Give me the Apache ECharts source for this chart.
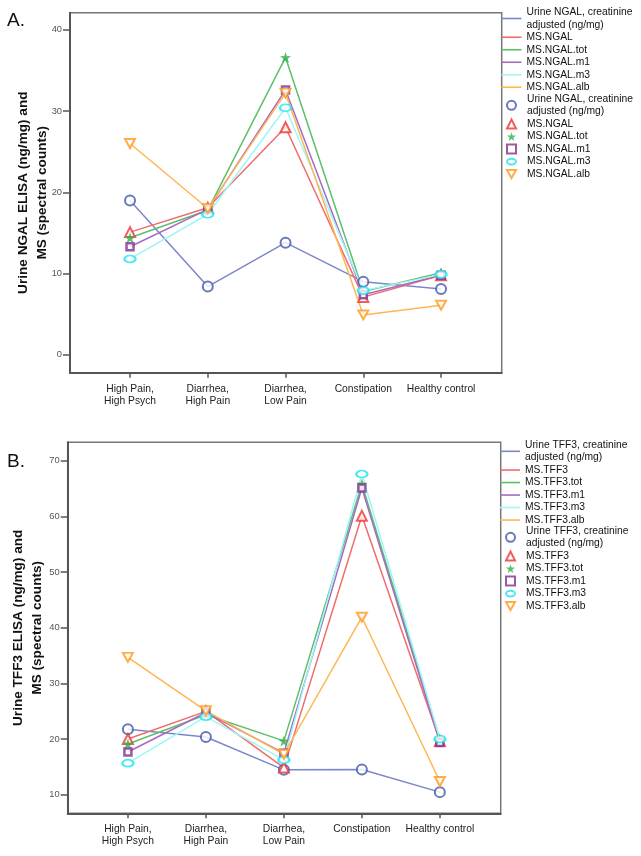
<!DOCTYPE html>
<html>
<head>
<meta charset="utf-8">
<script src="https://cdn.jsdelivr.net/npm/echarts@6/dist/echarts.min.js"></script>
<style>
html,body{margin:0;padding:0;background:#fff;}
#c{width:641px;height:856px;}
</style>
</head>
<body>
<div id="c"></div>
<script>
// ---- Data ----
const categories = ['High Pain,\nHigh Psych', 'Diarrhea,\nHigh Pain', 'Diarrhea,\nLow Pain', 'Constipation', 'Healthy control'];

const ngalNames = ['Urine NGAL, creatinine\nadjusted (ng/mg)', 'MS.NGAL', 'MS.NGAL.tot', 'MS.NGAL.m1', 'MS.NGAL.m3', 'MS.NGAL.alb'];
const ngalElisa = [19.0, 8.4, 13.8, 9.0, 8.1];
const msNgal    = [15.1, 18.1, 28.0, 7.1, 9.8];
const msNgalTot = [14.4, 17.8, 36.6, 7.8, 10.1];
const msNgalM1  = [13.3, 17.9, 32.6, 7.4, 9.8];
const msNgalM3  = [11.8, 17.3, 30.4, 7.9, 9.9];
const msNgalAlb = [26.0, 18.0, 32.2, 4.9, 6.1];
const ngalTicks = [0, 10, 20, 30, 40];

const tffNames = ['Urine TFF3, creatinine\nadjusted (ng/mg)', 'MS.TFF3', 'MS.TFF3.tot', 'MS.TFF3.m1', 'MS.TFF3.m3', 'MS.TFF3.alb'];
const tffElisa  = [21.8, 20.4, 14.5, 14.55, 10.5];
const msTff3    = [20.05, 25.0, 14.9, 60.1, 19.7];
const msTff3Tot = [19.15, 24.4, 19.7, 65.8, 20.0];
const msTff3M1  = [17.7, 24.8, 17.5, 65.1, 19.4];
const msTff3M3  = [15.7, 24.05, 16.3, 67.6, 20.05];
const msTff3Alb = [34.7, 25.1, 17.3, 41.9, 12.4];
const tffTicks = [10, 20, 30, 40, 50, 60, 70];

// ---- Styles ----
const lineColors   = ['#7b87c9', '#f26b6b', '#5dbf6b', '#a66ac2', '#9ef6f8', '#ffb652'];
const markerColors = ['#4356ac', '#ee3434', '#33b04a', '#7f2f8f', '#1ee4ee', '#ff9a1e'];
const ELLIPSE = 'path://M0,3.5 A5.5,3.5 0 1,1 11,3.5 A5.5,3.5 0 1,1 0,3.5 Z';
const INVTRI = 'path://M0,0 L10,0 L5,9 Z';
const STAR = 'path://M5,0 L6.2,3.6 L10,3.8 L7,6.1 L8.1,9.8 L5,7.6 L1.9,9.8 L3,6.1 L0,3.8 L3.8,3.6 Z';
const markerDefs = [
  {symbol: 'circle', size: 10, fill: '#fff', bw: 2},
  {symbol: 'triangle', size: 10, fill: '#fff', bw: 2},
  {symbol: STAR, size: 11, fill: null, bw: 0},
  {symbol: 'rect', size: 7, fill: '#fff', bw: 2.5},
  {symbol: ELLIPSE, size: [11, 7], fill: '#fff', bw: 2},
  {symbol: INVTRI, size: [10, 9], fill: '#fff', bw: 2}
];
const ZW = '\u200b';

function buildSeries(idx, names, valueSets) {
  const out = [];
  valueSets.forEach((vals, j) => {
    out.push({
      type: 'line', name: names[j], xAxisIndex: idx, yAxisIndex: idx,
      data: vals.map((v, k) => [k, v]),
      symbol: 'none', showSymbol: false, color: lineColors[j],
      lineStyle: {color: lineColors[j], width: 1.5},
      z: 2
    });
  });
  valueSets.forEach((vals, j) => {
    const m = markerDefs[j];
    out.push({
      type: 'scatter', name: names[j] + ZW, xAxisIndex: idx, yAxisIndex: idx,
      data: vals.map((v, k) => [k, v]),
      symbol: m.symbol, symbolSize: m.size,
      color: markerColors[j],
      itemStyle: m.fill ? {color: m.fill, borderColor: markerColors[j], borderWidth: m.bw}
                        : {color: markerColors[j], borderWidth: 0},
      z: 3
    });
  });
  return out;
}

const series = []
  .concat(buildSeries(0, ngalNames, [ngalElisa, msNgal, msNgalTot, msNgalM1, msNgalM3, msNgalAlb]))
  .concat(buildSeries(1, tffNames, [tffElisa, msTff3, msTff3Tot, msTff3M1, msTff3M3, msTff3Alb]));

const FONT = 'Liberation Sans, Arial, sans-serif';

function xAxisDef(gi) {
  return {
    type: 'value', gridIndex: gi, min: -0.772, max: 4.78,
    axisLine: {show: true, onZero: false, lineStyle: {color: '#555', width: 2}},
    axisTick: {show: true, length: 5, customValues: [0, 1, 2, 3, 4], lineStyle: {color: '#555', width: 1.5}},
    axisLabel: {show: true, customValues: [0, 1, 2, 3, 4], formatter: v => categories[Math.round(v)],
      color: '#222', fontSize: 10.3, lineHeight: 12, margin: 10, fontFamily: FONT},
    splitLine: {show: false}
  };
}
function yAxisDef(gi, min, max, ticks, name, gap) {
  return {
    type: 'value', gridIndex: gi, min: min, max: max,
    name: name, nameLocation: 'middle', nameGap: gap, nameMoveOverlap: false,
    nameTextStyle: {fontWeight: 'bold', fontSize: 13.6, lineHeight: 19, color: '#111', fontFamily: FONT},
    axisLine: {show: true, onZero: false, lineStyle: {color: '#555', width: 2}},
    axisTick: {show: true, length: 7, customValues: ticks, lineStyle: {color: '#555', width: 1.5}},
    axisLabel: {show: true, customValues: ticks, color: '#555', fontSize: 9.3, margin: 8, fontFamily: FONT},
    splitLine: {show: false}
  };
}

function lineLegend(top, left, names) {
  return {
    orient: 'vertical', left: left, top: top, padding: 0, itemGap: 0,
    itemWidth: 20, itemHeight: 1.6, selectedMode: false, icon: 'rect',
    data: names,
    textStyle: {fontSize: 10.3, lineHeight: 12.5, color: '#111', fontFamily: FONT}
  };
}
function symLegend(top, left, names) {
  return {
    orient: 'vertical', left: left, top: top, padding: 0, itemGap: 0,
    itemWidth: 9, itemHeight: 9, selectedMode: false,
    data: names.map(n => n + ZW),
    formatter: n => n.replace(/\u200b/g, ''),
    textStyle: {fontSize: 10.3, lineHeight: 12.5, color: '#111', fontFamily: FONT, padding: [0, 0, 0, 6]}
  };
}

const option = {
  animation: false,
  backgroundColor: '#fff',
  grid: [
    {left: 70, top: 12.7, width: 431.7, height: 360, show: true, borderColor: '#777', borderWidth: 1.5, backgroundColor: 'transparent'},
    {left: 67.7, top: 442.3, width: 433, height: 371, show: true, borderColor: '#777', borderWidth: 1.5, backgroundColor: 'transparent'}
  ],
  xAxis: [xAxisDef(0), xAxisDef(1)],
  yAxis: [
    yAxisDef(0, -2.2, 42.1, ngalTicks, 'Urine NGAL ELISA (ng/mg) and\nMS (spectral counts)', 18.5),
    yAxisDef(1, 6.7, 73.3, tffTicks, 'Urine TFF3 ELISA (ng/mg) and\nMS (spectral counts)', 21)
  ],
  legend: [
    lineLegend(6, 501.5, ngalNames),
    symLegend(92.8, 506, ngalNames),
    lineLegend(438.8, 500, tffNames),
    symLegend(524.8, 505, tffNames)
  ],
  graphic: [
    {type: 'text', left: 7, top: 11, style: {text: 'A.', fontSize: 19, fill: '#111', fontFamily: FONT}},
    {type: 'text', left: 7, top: 452, style: {text: 'B.', fontSize: 19, fill: '#111', fontFamily: FONT}}
  ],
  series: series
};

const chart = echarts.init(document.getElementById('c'), null, {renderer: 'canvas'});
chart.setOption(option);
</script>
</body>
</html>
